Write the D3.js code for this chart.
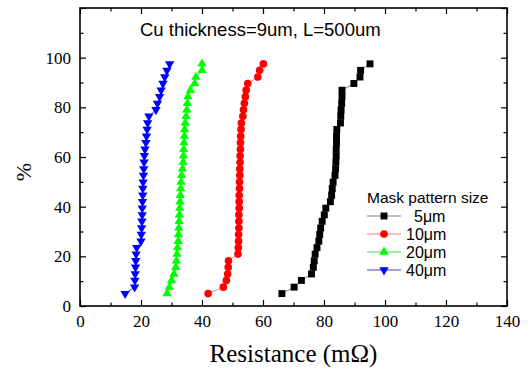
<!DOCTYPE html>
<html>
<head>
<meta charset="utf-8">
<script src="https://cdn.jsdelivr.net/npm/d3@7"></script>
<style>
  html, body { margin: 0; padding: 0; background: #fff; }
  svg { display: block; }
</style>
</head>
<body>
<svg id="chart" width="528" height="368"></svg>
<script>
// Cumulative percentage levels shared by every pattern size
const percent = [5.0, 7.6, 10.3, 12.9, 15.6, 18.2, 20.9, 23.5, 26.1, 28.8, 31.4, 34.1,
  36.7, 39.4, 42.0, 44.6, 47.3, 49.9, 52.6, 55.2, 57.9, 60.5, 63.1, 65.8,
  68.4, 71.1, 73.7, 76.4, 79.0, 81.6, 84.3, 86.9, 89.6, 92.2, 94.9, 97.5];

// Measured resistance (mΩ) for each mask pattern size
const r5um = [66.2, 70.2, 72.6, 75.9, 76.5, 76.8, 77.1, 77.7, 78.3, 78.6, 78.9, 79.4,
  80.1, 80.6, 82.1, 82.5, 82.7, 83.0, 83.6, 83.8, 83.9, 84.0, 84.0, 84.1,
  84.1, 84.2, 85.4, 85.5, 85.6, 85.8, 85.9, 85.9, 89.8, 91.8, 92.0, 95.1];
const r10um = [42.0, 47.0, 48.0, 48.4, 48.6, 48.7, 51.8, 51.9, 52.0, 52.0, 52.1, 52.1,
  52.1, 52.2, 52.2, 52.2, 52.3, 52.3, 52.4, 52.4, 52.5, 52.5, 52.6, 52.6,
  52.7, 52.8, 52.9, 53.4, 53.6, 53.9, 54.2, 54.5, 55.0, 58.3, 58.9, 60.1];
const r20um = [28.5, 29.3, 30.0, 30.8, 31.4, 31.6, 31.8, 32.0, 32.2, 32.3, 32.4, 32.5,
  32.6, 32.7, 32.8, 32.9, 33.0, 33.1, 33.3, 33.6, 33.8, 33.9, 34.0, 34.1,
  34.2, 34.3, 34.5, 34.8, 35.0, 35.2, 35.4, 36.2, 37.6, 38.0, 40.0, 40.0];
const r40um = [14.8, 17.9, 18.0, 18.1, 18.2, 18.3, 18.4, 18.6, 20.0, 20.1, 20.2, 20.3,
  20.4, 20.4, 20.5, 20.6, 20.6, 20.7, 20.8, 20.9, 21.0, 21.1, 21.3, 21.6,
  21.8, 22.0, 22.2, 22.6, 24.9, 25.4, 26.1, 26.6, 27.2, 27.8, 28.5, 29.4];

const seriesNames = ["5\u03bcm", "10\u03bcm", "20\u03bcm", "40\u03bcm"];
const xTicks = [0, 20, 40, 60, 80, 100, 120, 140];
const yTicks = [0, 20, 40, 60, 80, 100];

const series = [
  { name: seriesNames[0], values: r5um, fill: "#000000", line: "#808080", symbol: d3.symbolSquare, size: 48, rot: 0 },
  { name: seriesNames[1], values: r10um, fill: "#ff0000", line: "#ff8080", symbol: d3.symbolCircle, size: 46, rot: 0 },
  { name: seriesNames[2], values: r20um, fill: "#00ff00", line: "#40e040", symbol: d3.symbolTriangle, size: 38, rot: 0 },
  { name: seriesNames[3], values: r40um, fill: "#0000ff", line: "#4040cc", symbol: d3.symbolTriangle, size: 38, rot: 180 }
];

const svg = d3.select("#chart");
const m = { left: 80, right: 507, top: 8, bottom: 306 };

const x = d3.scaleLinear().domain([0, 140]).range([m.left, m.right]);
const y = d3.scaleLinear().domain([0, 120]).range([m.bottom, m.top]);

const serif = "'Liberation Serif', 'Times New Roman', serif";
const sans = "'Liberation Sans', Arial, sans-serif";

// Series: connecting line then markers
series.forEach(s => {
  const pts = s.values.map((v, i) => [v, percent[i]]);
  svg.append("path")
    .datum(pts)
    .attr("fill", "none")
    .attr("stroke", s.line)
    .attr("stroke-width", 1)
    .attr("d", d3.line().x(d => x(d[0])).y(d => y(d[1])));
  svg.append("g").selectAll("path")
    .data(pts)
    .join("path")
    .attr("transform", d => `translate(${x(d[0])},${y(d[1])}) rotate(${s.rot})`)
    .attr("d", d3.symbol().type(s.symbol).size(s.size))
    .attr("fill", s.fill);
});

// Axes with inward ticks on all four sides
const xMinor = d3.range(0, 141, 10);
const yMinor = d3.range(0, 121, 10);

function tickLen(v) { return v % 20 === 0 ? 6 : 3.5; }

const axisStyle = g => {
  g.select(".domain").remove();
  g.selectAll(".tick line").attr("stroke", "#000").attr("stroke-width", 1.2);
};

svg.append("g")
  .attr("transform", `translate(0,${m.bottom})`)
  .call(d3.axisBottom(x).tickValues(xMinor).tickSize(0).tickFormat(""))
  .call(axisStyle)
  .call(g => g.selectAll(".tick line").attr("y2", d => -tickLen(d)));

svg.append("g")
  .attr("transform", `translate(0,${m.top})`)
  .call(d3.axisTop(x).tickValues(xMinor).tickSize(0).tickFormat(""))
  .call(axisStyle)
  .call(g => g.selectAll(".tick line").attr("y2", d => tickLen(d)));

svg.append("g")
  .attr("transform", `translate(${m.left},0)`)
  .call(d3.axisLeft(y).tickValues(yMinor).tickSize(0).tickFormat(""))
  .call(axisStyle)
  .call(g => g.selectAll(".tick line").attr("x2", d => tickLen(d)));

svg.append("g")
  .attr("transform", `translate(${m.right},0)`)
  .call(d3.axisRight(y).tickValues(yMinor).tickSize(0).tickFormat(""))
  .call(axisStyle)
  .call(g => g.selectAll(".tick line").attr("x2", d => -tickLen(d)));

// Tick labels
svg.append("g")
  .attr("transform", `translate(0,${m.bottom})`)
  .call(d3.axisBottom(x).tickValues(xTicks).tickSize(0).tickPadding(9).tickFormat(d3.format("d")))
  .call(g => g.select(".domain").remove())
  .call(g => g.selectAll("text").attr("font-family", serif).attr("font-size", 17).attr("fill", "#000"));

svg.append("g")
  .attr("transform", `translate(${m.left},0)`)
  .call(d3.axisLeft(y).tickValues(yTicks).tickSize(0).tickPadding(9).tickFormat(d3.format("d")))
  .call(g => g.select(".domain").remove())
  .call(g => g.selectAll("text").attr("font-family", serif).attr("font-size", 17).attr("fill", "#000"));

// Frame
svg.append("rect")
  .attr("x", m.left).attr("y", m.top)
  .attr("width", m.right - m.left).attr("height", m.bottom - m.top)
  .attr("fill", "none").attr("stroke", "#000").attr("stroke-width", 1.6);

// Axis titles
svg.append("text")
  .attr("x", (m.left + m.right) / 2).attr("y", 362)
  .attr("text-anchor", "middle")
  .attr("font-family", serif).attr("font-size", 25)
  .text("Resistance (m\u03a9)");

svg.append("text")
  .attr("transform", `translate(31,${(m.top + m.bottom) / 2 + 15}) rotate(-90)`)
  .attr("text-anchor", "middle")
  .attr("font-family", serif).attr("font-size", 22)
  .text("%");

// Chart title inside the frame
svg.append("text")
  .attr("x", 140).attr("y", 36)
  .attr("font-family", sans).attr("font-size", 18.5)
  .text("Cu thickness=9um, L=500um");

// Legend
const lg = svg.append("g").attr("transform", "translate(367,0)");
lg.append("text")
  .attr("x", 0).attr("y", 203)
  .attr("font-family", sans).attr("font-size", 15.5)
  .text("Mask pattern size");

series.forEach((s, i) => {
  const cy = 216 + i * 18;
  lg.append("line")
    .attr("x1", 0).attr("x2", 34).attr("y1", cy).attr("y2", cy)
    .attr("stroke", s.line).attr("stroke-width", 1);
  lg.append("path")
    .attr("transform", `translate(17,${cy}) rotate(${s.rot})`)
    .attr("d", d3.symbol().type(s.symbol).size(s.size))
    .attr("fill", s.fill);
  lg.append("text")
    .attr("x", i === 0 ? 47 : 39).attr("y", cy + 5.5)
    .attr("font-family", sans).attr("font-size", 16)
    .text(s.name);
});
</script>
</body>
</html>
